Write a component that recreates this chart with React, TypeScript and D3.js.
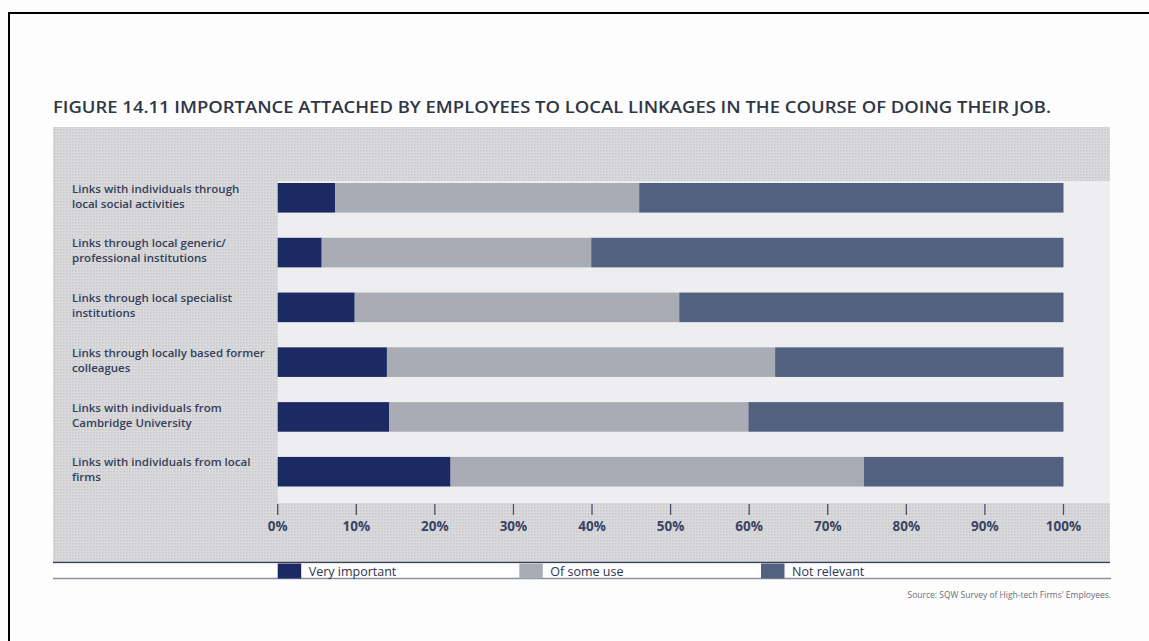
import React from "react";
import * as d3 from "d3";

const categories = [
  ["Links with individuals through", "local social activities"],
  ["Links through local generic/", "professional institutions"],
  ["Links through local specialist", "institutions"],
  ["Links through locally based former", "colleagues"],
  ["Links with individuals from", "Cambridge University"],
  ["Links with individuals from local", "firms"],
];
const veryImportant = [7.3, 5.6, 9.8, 13.9, 14.2, 22.0];
const ofSomeUse = [38.7, 34.3, 41.3, 49.4, 45.7, 52.6];
const notRelevant = [54.0, 60.1, 48.9, 36.7, 40.1, 25.4];
const seriesNames = ["Very important", "Of some use", "Not relevant"];
const tickValues = [0, 10, 20, 30, 40, 50, 60, 70, 80, 90, 100];

const colors = ["#1b2a63", "#a9acb4", "#526180"];
const textColor = "#36405a";

export default function App() {
  const W = 1149, H = 641;
  const x = d3.scaleLinear().domain([0, 100]).range([277.7, 1063.5]);
  const keys = categories.map((c) => c.join(" "));
  const y = d3.scaleBand<string>().domain(keys).range([183, 486.5]).paddingInner(0.46).paddingOuter(0);

  const table = keys.map((k, i) => ({ key: k, v0: veryImportant[i], v1: ofSomeUse[i], v2: notRelevant[i] }));
  const stacked = d3.stack<any>().keys(["v0", "v1", "v2"])(table);

  const font = "'Open Sans', 'Noto Sans', sans-serif";
  const legendX = [277.7, 519.3, 761];

  return (
    <svg width={W} height={H} style={{ position: "absolute", left: 0, top: 0, background: "#fdfdfd" }}>
      <defs>
        <pattern id="dots" width="3" height="3" patternUnits="userSpaceOnUse">
          <rect width="3" height="3" fill="#dadadc" />
          <rect width="1.5" height="1.5" fill="#c9c9cc" />
        </pattern>
      </defs>
      <rect x={0} y={0} width={W} height={H} fill="#fdfdfd" />
      {/* outer border */}
      <line x1={9} y1={13} x2={W} y2={13} stroke="#000" strokeWidth={2} />
      <line x1={9} y1={12} x2={9} y2={H} stroke="#000" strokeWidth={2} />

      {/* title */}
      <text x={53} y={113} fontFamily={font} fontWeight={600} fontSize={17} fill="#2f3646"
        textLength={998} lengthAdjust="spacingAndGlyphs">
        FIGURE 14.11  IMPORTANCE ATTACHED BY EMPLOYEES TO LOCAL LINKAGES IN THE COURSE OF DOING THEIR JOB.
      </text>

      {/* panel */}
      <rect x={53} y={127} width={1057} height={435.5} fill="url(#dots)" />
      <rect x={x(0)} y={181} width={1110 - x(0)} height={322} fill="#eeeef0" />
      <line x1={53} y1={562.5} x2={1110} y2={562.5} stroke="#3b435a" strokeWidth={1.5} />
      <rect x={53} y={563.5} width={1057} height={14.5} fill="#ffffff" />
      <line x1={53} y1={578.5} x2={1111} y2={578.5} stroke="#8b909b" strokeWidth={1.5} />

      {/* bars */}
      {stacked.map((s, si) => (
        <g key={si} fill={colors[si]}>
          {s.map((d: any, i: number) => (
            <rect key={i} x={x(d[0])} y={y(keys[i])} width={x(d[1]) - x(d[0])} height={y.bandwidth()} />
          ))}
        </g>
      ))}

      {/* category labels */}
      {categories.map((lines, i) => (
        <text key={i} fontFamily={font} fontWeight={600} fontSize={11.5} fill={textColor}>
          {lines.map((l, j) => (
            <tspan key={j} x={72} y={(y(keys[i]) as number) + 9.5 + j * 15}>{l}</tspan>
          ))}
        </text>
      ))}

      {/* axis ticks */}
      {tickValues.map((t) => (
        <g key={t}>
          <line x1={x(t)} x2={x(t)} y1={504} y2={515} stroke="#4a5066" strokeWidth={1.3} />
          <text x={x(t)} y={531} textAnchor="middle" fontFamily={font} fontWeight={700} fontSize={13.5}
            fill="#3a4564">{t}%</text>
        </g>
      ))}

      {/* legend */}
      {seriesNames.map((n, i) => (
        <g key={n}>
          <rect x={legendX[i]} y={563.5} width={23.5} height={15} fill={colors[i]} />
          <text x={legendX[i] + 31} y={575.5} fontFamily={font} fontWeight={500} fontSize={12.5} fill="#2b3450">{n}</text>
        </g>
      ))}

      {/* source */}
      <text x={1111} y={598} textAnchor="end" fontFamily={font} fontSize={8.5} fill="#6a6d78">
        Source: SQW Survey of High-tech Firms' Employees.
      </text>
    </svg>
  );
}
